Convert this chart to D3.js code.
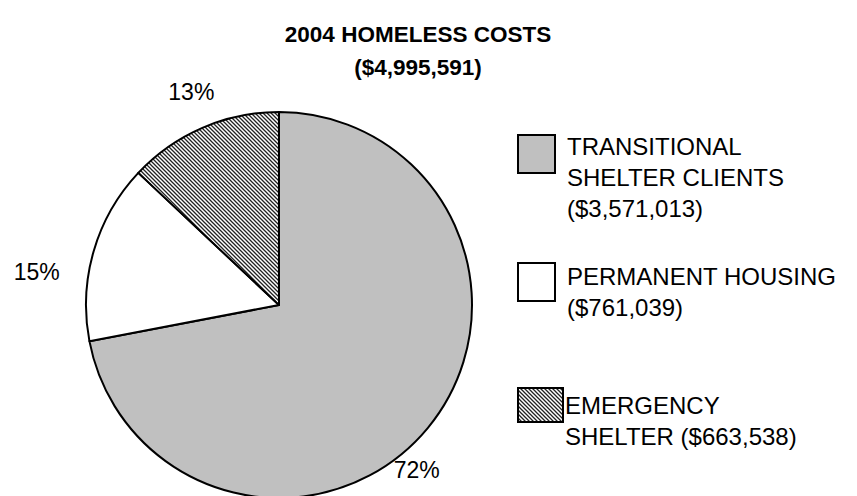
<!DOCTYPE html>
<html>
<head>
<meta charset="utf-8">
<script src="https://cdn.jsdelivr.net/npm/d3@7"></script>
<style>
  html, body { margin: 0; padding: 0; background: #fff; }
  svg { display: block; font-family: Arial, "Liberation Sans", sans-serif; }
</style>
</head>
<body>
<svg id="chart" width="857" height="496"></svg>
<script>
// Chart data
const titleLines = ["2004 HOMELESS COSTS", "($4,995,591)"];
const categories = ["Transitional Shelter Clients", "Permanent Housing", "Emergency Shelter"];
const shares = [72, 15, 13];                       // percent of total, as labelled
const amounts = ["($3,571,013)", "($761,039)", "($663,538)"];
const pctLabels = ["72%", "15%", "13%"];
const legendLines = [
  ["TRANSITIONAL", "SHELTER CLIENTS", "($3,571,013)"],
  ["PERMANENT HOUSING", "($761,039)"],
  ["EMERGENCY", "SHELTER ($663,538)"]
];

const W = 857, H = 496;
const svg = d3.select("#chart");

// Hatch used for the emergency-shelter slice
const defs = svg.append("defs");
const hatch = defs.append("pattern")
  .attr("id", "hatch")
  .attr("patternUnits", "userSpaceOnUse")
  .attr("width", 4).attr("height", 4);
hatch.append("rect").attr("width", 4).attr("height", 4).attr("fill", "#fff");
hatch.append("path")
  .attr("d", "M-1,-1L5,5M-1,3L1,5M3,-1L5,1")
  .attr("stroke", "#222").attr("stroke-width", 1.3);

const fills = d3.scaleOrdinal()
  .domain(categories)
  .range(["#c0c0c0", "#ffffff", "url(#hatch)"]);

// Title
svg.append("g").selectAll("text")
  .data(titleLines)
  .join("text")
  .attr("x", 418)
  .attr("y", (d, i) => 42 + i * 33)
  .attr("text-anchor", "middle")
  .attr("font-weight", "bold")
  .attr("font-size", 22.5)
  .text(d => d);

// Pie
const cx = 279, cy = 305, r = 193;
const pie = d3.pie().sort(null).value(d => d.v);
const arcs = pie(categories.map((c, i) => ({ c, v: shares[i], i })));
const arc = d3.arc().innerRadius(0).outerRadius(r);

const g = svg.append("g").attr("transform", `translate(${cx},${cy})`);
g.selectAll("path")
  .data(arcs)
  .join("path")
  .attr("d", arc)
  .attr("fill", d => fills(d.data.c))
  .attr("stroke", "#000")
  .attr("stroke-width", 2)
  .attr("stroke-linejoin", "round");

// Percent labels, anchored off each slice's mid-angle on the rim
const nudge = [[-11, 42], [-57, 21], [-11, -36]];
g.selectAll("text.pct")
  .data(arcs)
  .join("text")
  .attr("class", "pct")
  .attr("x", (d, i) => {
    const a = (d.startAngle + d.endAngle) / 2;
    return Math.sin(a) * r + nudge[i][0];
  })
  .attr("y", (d, i) => {
    const a = (d.startAngle + d.endAngle) / 2;
    return -Math.cos(a) * r + nudge[i][1];
  })
  .attr("text-anchor", "middle")
  .attr("dominant-baseline", "central")
  .attr("font-size", 23)
  .text((d, i) => pctLabels[i]);

// Legend
const legendTop = [135, 263, 388];
const boxSize = [[37, 38], [37, 38], [45, 34]];
const textBase = [155, 285, 414];
const legend = svg.append("g");
categories.forEach((c, i) => {
  const item = legend.append("g");
  item.append("rect")
    .attr("x", 518).attr("y", legendTop[i])
    .attr("width", boxSize[i][0]).attr("height", boxSize[i][1])
    .attr("fill", fills(c))
    .attr("stroke", "#000").attr("stroke-width", 2);
  item.selectAll("text")
    .data(legendLines[i])
    .join("text")
    .attr("x", i === 2 ? 565 : 567)
    .attr("y", (d, j) => textBase[i] + j * 31)
    .attr("font-size", 24)
    .text(d => d);
});
</script>
</body>
</html>
